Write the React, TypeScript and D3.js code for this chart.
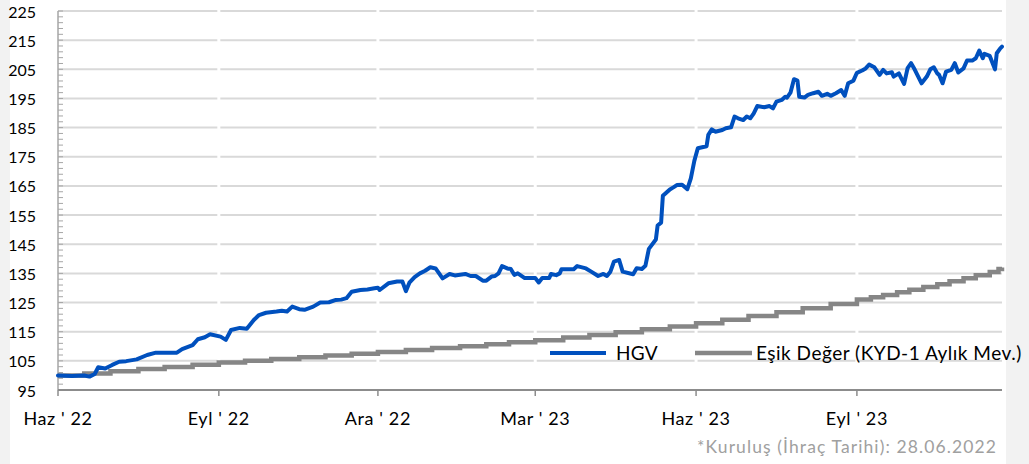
import React from "react";
import * as d3 from "d3";

// Days since inception (28.06.2022) and HGV values
const hgvDays = [0, 8, 15, 18, 21, 23, 27, 31, 35, 39, 45, 51, 56, 68, 71, 77, 80, 84, 87, 93, 96, 99, 104, 108, 112, 115, 119, 125, 128, 131, 134, 138, 141, 146, 150, 155, 159, 162, 165, 168, 173, 177, 181, 183, 184, 189, 194, 197, 199, 201, 204, 207, 210, 213, 216, 220, 224, 227, 233, 236, 239, 243, 245, 248, 250, 252, 254, 257, 259, 261, 263, 267, 273, 275, 277, 281, 282, 285, 287, 288, 295, 297, 302, 305, 309, 312, 314, 316, 318, 321, 323, 329, 331, 334, 336, 338, 342, 343, 345, 346, 350, 352, 354, 357, 360, 362, 364, 366, 371, 372, 374, 376, 380, 382, 385, 387, 389, 392, 394, 396, 398, 400, 404, 407, 409, 411, 414, 416, 417, 419, 421, 423, 424, 427, 429, 432, 435, 437, 440, 442, 445, 448, 450, 452, 455, 457, 460, 462, 464, 467, 470, 472, 474, 477, 478, 481, 484, 486, 488, 490, 494, 497, 499, 501, 503, 504, 506, 508, 511, 513, 515, 518, 520, 523, 525, 527, 529, 530, 533, 536, 537, 539, 540];
const hgvValues = [100.0, 99.8, 100.0, 99.6, 100.5, 102.8, 102.4, 103.6, 104.7, 104.9, 105.5, 107.0, 107.8, 107.8, 109.0, 110.4, 112.4, 113.1, 114.1, 113.3, 112.2, 115.6, 116.3, 116.0, 119.0, 120.7, 121.5, 121.9, 122.2, 121.9, 123.6, 122.7, 122.5, 123.6, 125.0, 125.1, 125.9, 126.0, 126.5, 128.7, 129.3, 129.5, 129.9, 130.1, 129.3, 131.6, 132.2, 132.2, 128.9, 131.8, 133.7, 135.0, 135.9, 137.1, 136.7, 133.3, 134.8, 134.3, 134.8, 134.1, 134.1, 132.5, 132.5, 133.9, 134.1, 135.0, 137.5, 136.7, 136.5, 134.5, 135.0, 133.4, 133.4, 131.9, 133.4, 133.4, 134.8, 134.4, 135.0, 136.4, 136.4, 137.5, 136.7, 135.6, 134.1, 134.8, 134.1, 135.6, 139.0, 139.6, 135.6, 134.7, 136.8, 136.5, 137.6, 143.4, 146.6, 151.4, 152.4, 161.6, 163.8, 164.5, 165.3, 165.4, 163.9, 167.6, 173.6, 177.9, 178.6, 182.5, 184.4, 183.6, 184.2, 184.8, 185.1, 188.8, 188.2, 187.6, 188.8, 188.2, 189.9, 192.4, 192.0, 192.4, 191.6, 193.9, 194.5, 195.6, 195.3, 197.0, 201.6, 201.1, 195.6, 195.3, 196.2, 196.8, 197.3, 195.9, 196.6, 195.9, 196.8, 197.9, 195.9, 200.2, 201.1, 203.8, 204.6, 205.3, 206.6, 205.7, 203.1, 204.8, 203.6, 204.0, 202.5, 203.6, 200.0, 205.4, 207.1, 205.0, 200.2, 202.5, 205.0, 205.7, 203.6, 203.1, 200.2, 204.2, 204.8, 207.1, 203.9, 205.3, 208.0, 208.0, 208.8, 211.4, 208.8, 210.3, 209.6, 205.0, 210.5, 212.2, 212.8];

// Threshold (Eşik Değer) step series
const esikDays = [0, 15, 30, 46, 61, 77, 92, 107, 122, 138, 153, 168, 183, 199, 214, 230, 245, 258, 273, 289, 304, 319, 334, 350, 365, 380, 395, 411, 426, 442, 457, 465, 472, 480, 487, 495, 503, 510, 518, 525, 533, 538, 540];
const esikValues = [100.0, 100.7, 101.4, 102.2, 102.9, 103.7, 104.4, 105.0, 105.6, 106.2, 106.8, 107.4, 108.0, 108.7, 109.4, 110.0, 110.7, 111.4, 112.1, 113.0, 113.9, 114.8, 115.8, 116.8, 117.9, 119.1, 120.4, 121.7, 123.0, 124.5, 126.0, 126.8, 127.6, 128.5, 129.4, 130.3, 131.3, 132.3, 133.3, 134.4, 135.5, 136.5, 137.0];

const yTicks = [95, 105, 115, 125, 135, 145, 155, 165, 175, 185, 195, 205, 215, 225];
const xTickDays = [0, 92, 183, 273, 365, 457];
const xTickLabels = ["Haz ' 22", "Eyl ' 22", "Ara ' 22", "Mar ' 23", "Haz ' 23", "Eyl ' 23"];
const seriesNames = ["HGV", "Eşik Değer (KYD-1 Aylık Mev.)"];
const footnote = "*Kuruluş (İhraç Tarihi): 28.06.2022";

const W = 1029;
const H = 464;
const FONT = "Lato, 'Open Sans', sans-serif";

export default function App() {
  const x = d3.scaleLinear().domain([0, 540]).range([58, 1002]);
  const y = d3.scaleLinear().domain([95, 225]).range([390, 11]);

  const hgvData = hgvDays.map((d, i) => [d, hgvValues[i]] as [number, number]);
  const esikData = esikDays.map((d, i) => [d, esikValues[i]] as [number, number]);

  const lineGen = d3
    .line<[number, number]>()
    .x((d) => x(d[0]))
    .y((d) => y(d[1]))
    .curve(d3.curveLinear);
  const stepGen = d3
    .line<[number, number]>()
    .x((d) => x(d[0]))
    .y((d) => y(d[1]))
    .curve(d3.curveStepAfter);

  const minorTicks = d3.range(95, 226, 2);

  return (
    <svg
      width={W}
      height={H}
      style={{ position: "absolute", left: 0, top: 0, display: "block" }}
      fontFamily={FONT}
    >
      <rect x={0} y={0} width={W} height={H} fill="#f2f2f2" />
      <rect x={10} y={0} width={996} height={H} fill="#ffffff" />

      {/* gridlines */}
      {yTicks
        .filter((t) => t !== 95)
        .map((t) => (
          <line key={"g" + t} x1={x(0)} x2={x(540)} y1={y(t)} y2={y(t)} stroke="#d9d9d9" strokeWidth={2} />
        ))}
      {/* white vertical breaks at x ticks */}
      {xTickDays.slice(1).map((d) => (
        <line key={"vb" + d} x1={x(d)} x2={x(d)} y1={y(225) - 2} y2={y(95) - 2} stroke="#ffffff" strokeWidth={3} />
      ))}

      {/* y axis */}
      <line x1={58} x2={58} y1={y(225)} y2={y(95)} stroke="#a6a6a6" strokeWidth={1.5} />
      {minorTicks.map((t) => (
        <line key={"mt" + t} x1={58} x2={63} y1={y(t)} y2={y(t)} stroke="#a6a6a6" strokeWidth={1} />
      ))}
      {yTicks.map((t) => (
        <text
          key={"yl" + t}
          x={36}
          y={y(t)}
          textAnchor="end"
          dominantBaseline="central"
          fontSize={16}
          fill="#000"
        >
          {t}
        </text>
      ))}

      {/* series */}
      <path d={stepGen(esikData) || ""} fill="none" stroke="#868686" strokeWidth={4.5} />
      <path
        d={lineGen(hgvData) || ""}
        fill="none"
        stroke="#0050be"
        strokeWidth={4}
        strokeLinejoin="round"
        strokeLinecap="round"
      />

      {/* x axis */}
      <line x1={x(0)} x2={x(540)} y1={390} y2={390} stroke="#8c8c8c" strokeWidth={2} />
      {xTickDays.map((d) => (
        <line key={"xt" + d} x1={x(d)} x2={x(d)} y1={390} y2={396} stroke="#8c8c8c" strokeWidth={1.5} />
      ))}
      {xTickDays.map((d, i) => (
        <text key={"xl" + d} x={x(d)} y={425} textAnchor="middle" fontSize={18} letterSpacing={0.6} fill="#000">
          {xTickLabels[i]}
        </text>
      ))}

      {/* legend */}
      <line x1={550} x2={606} y1={353} y2={353} stroke="#0050be" strokeWidth={4} />
      <text x={616} y={359.5} fontSize={19} letterSpacing={0.3} fill="#000">
        {seriesNames[0]}
      </text>
      <line x1={695} x2={752} y1={353} y2={353} stroke="#868686" strokeWidth={4.5} />
      <text x={756} y={359.5} fontSize={19} letterSpacing={0.5} fill="#000">
        {seriesNames[1]}
      </text>

      {/* footnote */}
      <text x={697} y={453} fontSize={17.5} letterSpacing={1.1} fill="#a0a0a0">
        {footnote}
      </text>
    </svg>
  );
}
